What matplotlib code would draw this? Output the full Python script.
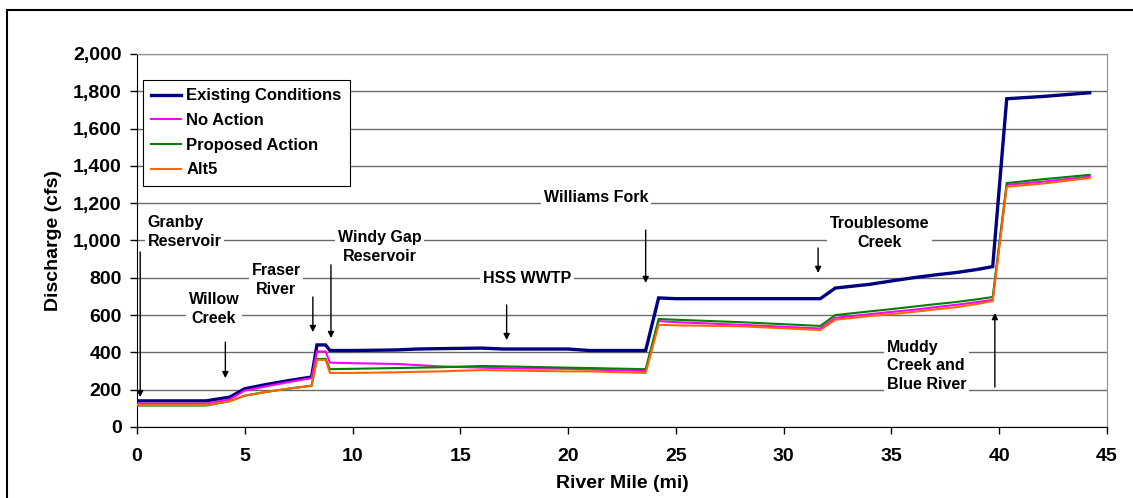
import matplotlib
matplotlib.use("Agg")
import matplotlib.pyplot as plt
from matplotlib.patches import Rectangle
from matplotlib.ticker import FuncFormatter, MultipleLocator

plt.rcParams['font.family'] = ['Liberation Sans', 'DejaVu Sans']
plt.rcParams['font.weight'] = 'bold'

# river mile of each sample point
river_mile = [0, 3.2, 4.3, 5.0, 6.0, 7.0, 8.1, 8.35, 8.75, 8.95, 10, 12, 13, 14, 16, 17,
              20, 21, 23.6, 24.2, 25, 28, 31.7, 32.4, 34, 35, 36, 37, 38, 39, 39.7,
              40.35, 42, 44.2]

existing = [140, 140, 160, 205, 228, 248, 268, 440, 440, 410, 410, 413, 418, 420, 423, 418,
            418, 410, 410, 692, 688, 688, 688, 745, 765, 783, 800, 815, 828, 845, 860,
            1760, 1772, 1792]
no_action = [125, 125, 148, 195, 218, 240, 262, 405, 405, 345, 342, 338, 332, 325, 318, 315,
             312, 308, 300, 568, 562, 548, 528, 585, 605, 617, 628, 642, 655, 670, 682,
             1298, 1315, 1342]
proposed = [115, 115, 138, 168, 188, 205, 222, 365, 365, 310, 312, 316, 318, 320, 327, 325,
            318, 316, 310, 579, 575, 562, 542, 600, 620, 632, 645, 658, 670, 685, 697,
            1308, 1328, 1352]
alt5 = [118, 118, 138, 168, 188, 205, 220, 360, 360, 290, 290, 293, 296, 298, 305, 303,
        298, 298, 290, 548, 545, 540, 520, 575, 595, 605, 617, 630, 642, 660, 675,
        1288, 1305, 1335]

series_names = ['Existing Conditions', 'No Action', 'Proposed Action', 'Alt5']
series_colors = ['#000080', '#FF00FF', '#008000', '#FF6600']
series_widths = [2.4, 1.5, 1.5, 1.5]

# annotation labels: text, text x, text y, alignment, arrow x, arrow start y, arrow tip y
labels = [
    ('Granby\nReservoir', 0.5, 1046, 'left', 0.15, 938, 160),
    ('Willow\nCreek', 3.57, 633, 'center', 4.1, 455, 262),
    ('Fraser\nRiver', 6.45, 788, 'center', 8.16, 697, 509),
    ('Windy Gap\nReservoir', 11.27, 965, 'center', 9.0, 869, 477),
    ('HSS WWTP', 18.1, 794, 'center', 17.15, 654, 466),
    ('Williams Fork', 21.3, 1228, 'center', 23.6, 1056, 772),
    ('Troublesome\nCreek', 34.45, 1040, 'center', 31.6, 960, 826),
    ('Muddy\nCreek and\nBlue River', 34.8, 327, 'left', 39.8, 214, 611),
]

fig = plt.figure(figsize=(11.33, 4.98), dpi=100)
ax = fig.add_axes([0.1209, 0.1426, 0.8561, 0.749])

for ys, name, col, lw in zip([existing, no_action, proposed, alt5], series_names,
                             series_colors, series_widths):
    ax.plot(river_mile, ys, color=col, lw=lw, label=name, zorder=3,
            solid_joinstyle='miter')

ax.set_xlim(0, 45)
ax.set_ylim(0, 2000)
ax.xaxis.set_major_locator(MultipleLocator(5))
ax.yaxis.set_major_locator(MultipleLocator(200))
ax.yaxis.set_major_formatter(FuncFormatter(lambda v, p: f'{int(v):,}'))
ax.tick_params(axis='both', direction='out', length=5, width=1, labelsize=14, pad=6)
ax.tick_params(axis='x', pad=10)
ax.grid(axis='y', color='#6b6b6b', lw=1, zorder=0)
ax.set_axisbelow(True)

for s in ['top', 'right']:
    ax.spines[s].set_color('#909090')
for s in ['left', 'bottom']:
    ax.spines[s].set_color('black')

ax.set_xlabel('River Mile (mi)', fontsize=14, fontweight='bold', labelpad=7)
ax.set_ylabel('Discharge (cfs)', fontsize=14, fontweight='bold', labelpad=8)

for txt, tx, ty, ha, axx, y0, y1 in labels:
    ax.text(tx, ty, txt, ha=ha, va='center', fontsize=11.5, fontweight='bold',
            linespacing=1.3, zorder=2, multialignment=ha,
            bbox=dict(facecolor='white', edgecolor='none', pad=2))
    ax.annotate('', xy=(axx, y1), xytext=(axx, y0), zorder=4,
                arrowprops=dict(arrowstyle='-|>', color='black', lw=1,
                                mutation_scale=9, shrinkA=0, shrinkB=0))

leg = ax.legend(loc='upper left', bbox_to_anchor=(0.006, 0.93), fontsize=12,
                frameon=True, fancybox=False, edgecolor='black', framealpha=1,
                handlelength=1.8, handletextpad=0.3, labelspacing=0.58,
                borderpad=0.5, borderaxespad=0)
leg.get_frame().set_linewidth(0.8)
leg.set_zorder(5)

fig.add_artist(Rectangle((7 / 1133, -0.05), 1.2, 0.98 + 0.05, transform=fig.transFigure,
                         fill=False, edgecolor='black', lw=1.5, clip_on=False))

fig.savefig('out.png', dpi=100)
